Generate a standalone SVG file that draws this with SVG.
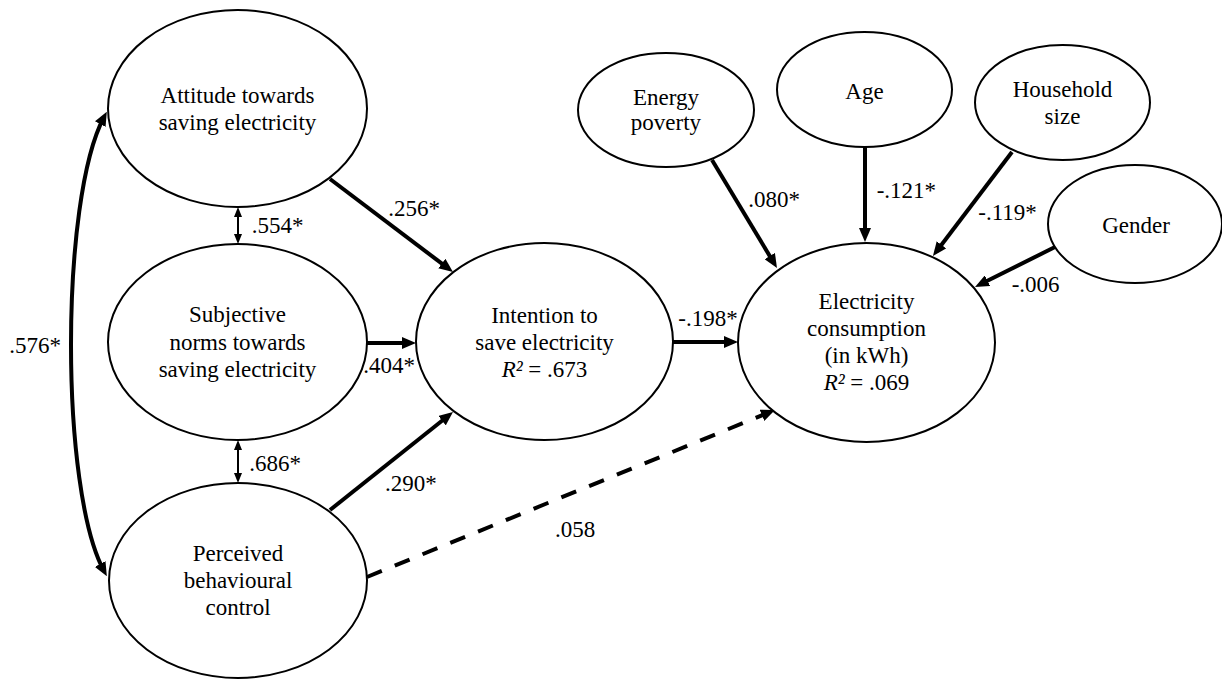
<svg xmlns="http://www.w3.org/2000/svg" width="1222" height="679" viewBox="0 0 1222 679">
<style>
  .node { fill: #fff; stroke: #000; stroke-width: 2; }
  .t { font-family: "Liberation Serif", "Times New Roman", serif; font-size: 23px; fill: #000; text-anchor: middle; }
  .lbl { font-family: "Liberation Serif", "Times New Roman", serif; font-size: 23px; fill: #000; }
  .thick { fill: none; stroke: #000; stroke-width: 4; marker-end: url(#arr); }
  .dash { stroke-dasharray: 16 14; }
  .thin { fill: none; stroke: #000; stroke-width: 2; marker-start: url(#arrS); marker-end: url(#arrS); }
  .cov { fill: none; stroke: #000; stroke-width: 4; marker-start: url(#arr); marker-end: url(#arr); }
  .i { font-style: italic; }
</style>
<defs>
  <marker id="arr" markerUnits="userSpaceOnUse" markerWidth="14" markerHeight="12" refX="8" refY="6" orient="auto-start-reverse">
    <path d="M0,0 L14,6 L0,12 z" fill="#000"/>
  </marker>
  <marker id="arrS" markerUnits="userSpaceOnUse" markerWidth="10" markerHeight="8" refX="6" refY="4" orient="auto-start-reverse">
    <path d="M0,0 L10,4 L0,8 z" fill="#000"/>
  </marker>
</defs>
<rect width="1222" height="679" fill="#fff"/>

<g id="connectors">
  <path class="thick" d="M330,179 L448.2,268.4"/>
  <path class="thick" d="M367,343 L410,343"/>
  <path class="thick" d="M330,510 L448.3,415.7"/>
  <path class="thick" d="M673,342 L732,342"/>
  <path class="thick dash" d="M367,577 L769.4,412.3"/>
  <path class="thick" d="M712,160 L773.9,262.9"/>
  <path class="thick" d="M865,147 L865,236"/>
  <path class="thick" d="M1012,152 L936.6,251.2"/>
  <path class="thick" d="M1055,247 L980.4,284.3"/>
  <path class="thin" d="M238,211 L238,240"/>
  <path class="thin" d="M238,444 L238,479"/>
  <path class="cov" d="M104,117 C60,200 60,490 104,571"/>
</g>

<g id="labels">
  <text class="lbl" x="251.7" y="233">.554*</text>
  <text class="lbl" x="249.3" y="470.7">.686*</text>
  <text class="lbl" x="9.3" y="352.7">.576*</text>
  <text class="lbl" x="363.3" y="372.7">.404*</text>
  <text class="lbl" x="385" y="490.7">.290*</text>
  <text class="lbl" x="555" y="537.3">.058</text>
  <text class="lbl" x="678.3" y="325.7">-.198*</text>
  <text class="lbl" x="388.3" y="215.7">.256*</text>
  <text class="lbl" x="748.3" y="207.3">.080*</text>
  <text class="lbl" x="876.7" y="198.3">-.121*</text>
  <text class="lbl" x="978.3" y="220">-.119*</text>
  <text class="lbl" x="1011.7" y="291.7">-.006</text>
</g>

<g id="attitude">
  <ellipse class="node" cx="237.5" cy="108.5" rx="129.5" ry="98.5"/>
  <text class="t" x="237.5" y="103">Attitude towards</text>
  <text class="t" x="237.5" y="130">saving electricity</text>
</g>
<g id="subjective">
  <ellipse class="node" cx="237.5" cy="342" rx="129.5" ry="98"/>
  <text class="t" x="237.5" y="322">Subjective</text>
  <text class="t" x="237.5" y="350">norms towards</text>
  <text class="t" x="237.5" y="377">saving electricity</text>
</g>
<g id="perceived">
  <ellipse class="node" cx="238" cy="580.5" rx="129" ry="97.5"/>
  <text class="t" x="238" y="561">Perceived</text>
  <text class="t" x="238" y="588">behavioural</text>
  <text class="t" x="238" y="615">control</text>
</g>
<g id="intention">
  <ellipse class="node" cx="544.5" cy="341.5" rx="128.5" ry="98.5"/>
  <text class="t" x="544.5" y="323">Intention to</text>
  <text class="t" x="544.5" y="350">save electricity</text>
  <text class="t" x="544.5" y="377"><tspan class="i">R²</tspan> = .673</text>
</g>
<g id="electricity">
  <ellipse class="node" cx="866.5" cy="342.5" rx="128.5" ry="99.5"/>
  <text class="t" x="866.5" y="309">Electricity</text>
  <text class="t" x="866.5" y="336">consumption</text>
  <text class="t" x="866.5" y="363">(in kWh)</text>
  <text class="t" x="866.5" y="390"><tspan class="i">R²</tspan> = .069</text>
</g>
<g id="energy-poverty">
  <ellipse class="node" cx="666" cy="110" rx="88" ry="57"/>
  <text class="t" x="666" y="105">Energy</text>
  <text class="t" x="666" y="130">poverty</text>
</g>
<g id="age">
  <ellipse class="node" cx="864.5" cy="89.5" rx="87.5" ry="57.5"/>
  <text class="t" x="864.5" y="99">Age</text>
</g>
<g id="household-size">
  <ellipse class="node" cx="1062.5" cy="102.5" rx="87.5" ry="57.5"/>
  <text class="t" x="1062.5" y="97">Household</text>
  <text class="t" x="1062.5" y="124">size</text>
</g>
<g id="gender">
  <ellipse class="node" cx="1135" cy="224" rx="87" ry="59"/>
  <text class="t" x="1136" y="232.5">Gender</text>
</g>
</svg>
